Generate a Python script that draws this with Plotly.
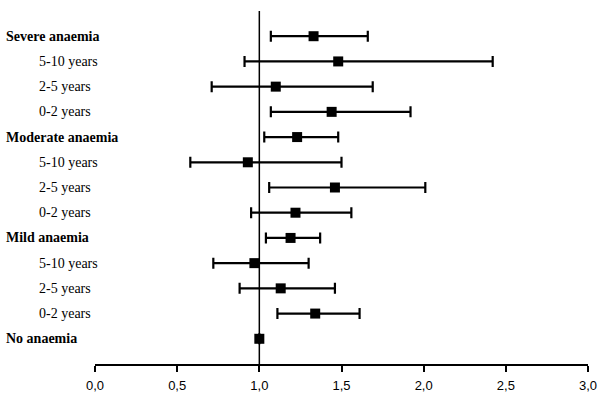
import plotly.graph_objects as go

labels = ["Severe anaemia", "5-10 years", "2-5 years", "0-2 years",
          "Moderate anaemia", "5-10 years", "2-5 years", "0-2 years",
          "Mild anaemia", "5-10 years", "2-5 years", "0-2 years",
          "No anaemia"]
is_group = [True, False, False, False, True, False, False, False,
            True, False, False, False, True]
estimate = [1.33, 1.48, 1.10, 1.44, 1.23, 0.93, 1.46, 1.22, 1.19, 0.97, 1.13, 1.34, 1.00]
ci_low = [1.07, 0.91, 0.71, 1.07, 1.03, 0.58, 1.06, 0.95, 1.04, 0.72, 0.88, 1.11, 1.00]
ci_high = [1.66, 2.42, 1.69, 1.92, 1.48, 1.50, 2.01, 1.56, 1.37, 1.30, 1.46, 1.61, 1.00]
x_ticks = [0.0, 0.5, 1.0, 1.5, 2.0, 2.5, 3.0]
x_ticktext = ["0,0", "0,5", "1,0", "1,5", "2,0", "2,5", "3,0"]

n = len(labels)
ypos = [n - i for i in range(n)]

has_ci = [hi != lo for lo, hi in zip(ci_low, ci_high)]
plus = [hi - e if c else None for e, hi, c in zip(estimate, ci_high, has_ci)]
minus = [e - lo if c else None for e, lo, c in zip(estimate, ci_low, has_ci)]

serif = "Liberation Serif"

fig = go.Figure()
fig.add_trace(go.Scatter(
    x=estimate, y=ypos, mode="markers",
    marker=dict(symbol="square", size=10, color="black"),
    error_x=dict(type="data", array=plus, arrayminus=minus, symmetric=False,
                 color="black", thickness=2.2, width=5.5),
    showlegend=False, hoverinfo="skip",
))

fig.add_shape(type="line", xref="x", yref="y", x0=1, x1=1, y0=0, y1=n + 1,
              line=dict(color="black", width=1.5), layer="below")

for lab, y, grp in zip(labels, ypos, is_group):
    fig.add_annotation(
        x=-0.184 if grp else -0.117, xref="paper", y=y, yref="y",
        text=f"<b>{lab}</b>" if grp else lab, showarrow=False,
        xanchor="left", yanchor="middle",
        font=dict(family=serif, size=14, color="black"),
    )

fig.update_layout(
    width=600, height=394,
    margin=dict(l=95, r=12, t=11, b=30, autoexpand=False),
    paper_bgcolor="white", plot_bgcolor="white",
    xaxis=dict(range=[0, 3], tickvals=x_ticks, ticktext=x_ticktext,
               showgrid=False, zeroline=False, showline=True,
               linecolor="black", linewidth=1.5, ticks="outside",
               ticklen=6, tickwidth=1.5, tickcolor="black", automargin=False,
               ticklabelstandoff=3,
               tickfont=dict(family="Liberation Sans", size=13, color="black")),
    yaxis=dict(range=[0, n + 1], showgrid=False, zeroline=False,
               showticklabels=False, showline=False, ticks=""),
)

fig.write_html("out.html", config={"displayModeBar": False},
               post_script="document.body.style.margin='0';document.body.style.overflow='hidden';")
